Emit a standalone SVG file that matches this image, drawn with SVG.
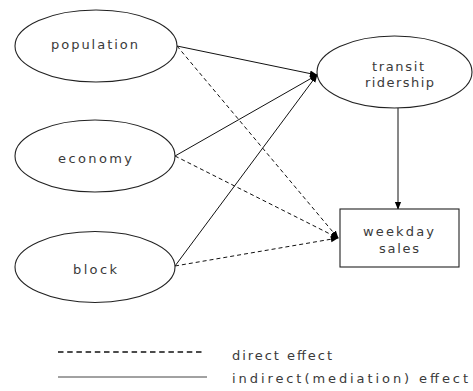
<svg xmlns="http://www.w3.org/2000/svg" width="473" height="391" viewBox="0 0 473 391">
<defs>
<style>
.node{fill:#fff;stroke:#222;stroke-width:1.1}
.lbl{font-family:"DejaVu Sans","Liberation Sans",sans-serif;font-size:13px;fill:#3a3a3a;text-anchor:start}
.solid{fill:none;stroke:#111;stroke-width:1}
.dash{fill:none;stroke:#111;stroke-width:1;stroke-dasharray:4 3}
</style>
<marker id="ah" viewBox="0 0 10 10" refX="9" refY="5" markerWidth="8" markerHeight="8" markerUnits="userSpaceOnUse" orient="auto">
<path d="M0,1 L10,5 L0,9 Z" fill="#000"/>
</marker>
</defs>
<rect width="473" height="391" fill="#fff"/>
<g id="connectors">
<line class="solid" x1="177" y1="46" x2="317" y2="75" marker-end="url(#ah)"/>
<line class="solid" x1="175" y1="156" x2="317" y2="75" marker-end="url(#ah)"/>
<line class="solid" x1="175" y1="266" x2="317" y2="75" marker-end="url(#ah)"/>
<line class="dash" x1="177" y1="46" x2="338" y2="238" marker-end="url(#ah)"/>
<line class="dash" x1="175" y1="156" x2="338" y2="238" marker-end="url(#ah)"/>
<line class="dash" x1="175" y1="266" x2="338" y2="238" marker-end="url(#ah)"/>
<line class="solid" x1="398" y1="108" x2="398" y2="209" marker-end="url(#ah)"/>
</g>
<g id="population">
<ellipse class="node" cx="96" cy="46" rx="81" ry="36"/>
<text class="lbl" x="51" y="49" textLength="87" lengthAdjust="spacing">population</text>
</g>
<g id="economy">
<ellipse class="node" cx="95" cy="156" rx="80" ry="36"/>
<text class="lbl" x="58" y="163" textLength="74" lengthAdjust="spacing">economy</text>
</g>
<g id="block">
<ellipse class="node" cx="95" cy="267" rx="80" ry="35.5"/>
<text class="lbl" x="73" y="274" textLength="44" lengthAdjust="spacing">block</text>
</g>
<g id="transit">
<ellipse class="node" cx="394.5" cy="72" rx="77.5" ry="36"/>
<text class="lbl" x="372" y="70.5" textLength="52" lengthAdjust="spacing">transit</text>
<text class="lbl" x="365" y="86.5" textLength="69" lengthAdjust="spacing">ridership</text>
</g>
<g id="sales">
<rect class="node" x="340" y="209" width="119" height="58"/>
<text class="lbl" x="363" y="236" textLength="71" lengthAdjust="spacing">weekday</text>
<text class="lbl" x="379" y="253" textLength="40" lengthAdjust="spacing">sales</text>
</g>
<g id="legend">
<line x1="58" y1="352" x2="205" y2="352" stroke="#111" stroke-width="1.6" stroke-dasharray="5.5 3.7"/>
<line x1="58" y1="377" x2="207" y2="377" stroke="#444" stroke-width="1"/>
<text class="lbl" x="232" y="360" textLength="100" lengthAdjust="spacing">direct effect</text>
<text class="lbl" x="232" y="383" textLength="236" lengthAdjust="spacing">indirect(mediation) effect</text>
</g>
</svg>
